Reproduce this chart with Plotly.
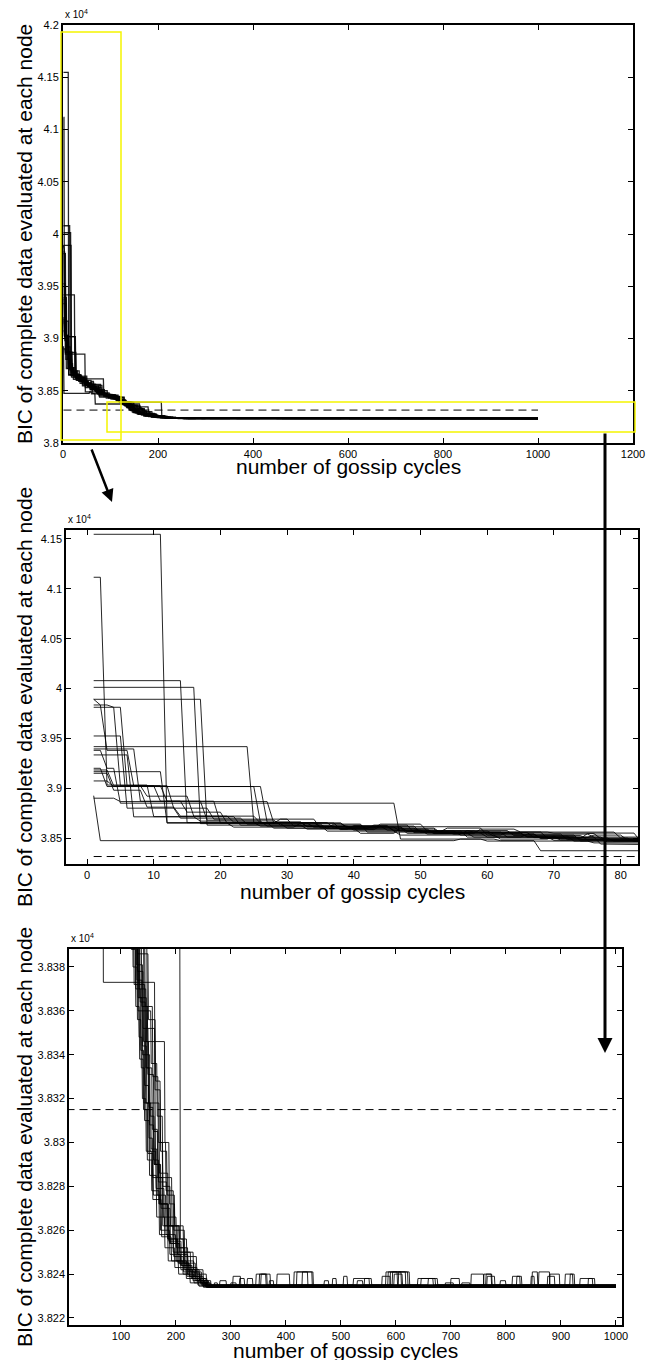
import plotly.graph_objects as go

# ---------------- data (BIC values in units of 10^4) ----------------
END_CYCLE = 1000
REFERENCE_BIC = 3.8315   # dashed horizontal reference

# each node: list of (cycle, value) -> value holds from that cycle until the next entry
NODE_01 = [(1,4.1547),(12,3.8655),(28,3.8600),(41,3.8548),(47,3.8600),(48,3.8548),(58,3.8510),(70,3.8478),(92,3.8452),(112,3.8405),(124,3.8372),(133,3.8348),(139,3.8320),(146,3.8296),(156,3.8278),(170,3.8258),(186,3.8246),(205,3.8240),(226,3.8236),(242,3.82345),(300,3.8236),(310,3.82345),(352,3.8240),(366,3.82345),(586,3.8241),(603,3.82345),(760,3.8240),(774,3.82345)]
NODE_02 = [(1,4.1116),(3,3.9032),(10,3.8715),(23,3.8630),(36,3.8570),(47,3.8530),(62,3.8490),(70,3.8520),(71,3.8490),(78,3.8462),(96,3.8430),(118,3.8395),(131,3.8360),(143,3.8326),(151,3.8302),(158,3.8284),(176,3.8262),(196,3.8248),(214,3.8241),(235,3.8237),(252,3.82345),(280,3.8237),(292,3.82345),(415,3.8241),(450,3.82345),(690,3.8236),(705,3.82345),(848,3.8241),(858,3.82345)]
NODE_03 = [(1,4.0079),(15,3.8655),(26,3.8620),(38,3.8585),(44,3.8620),(50,3.8560),(64,3.8540),(76,3.8510),(88,3.8455),(110,3.8418),(128,3.8381),(140,3.8352),(150,3.8318),(163,3.8290),(172,3.8272),(187,3.8255),(210,3.8244),(230,3.8238),(250,3.8235),(505,3.8239),(512,3.8235),(640,3.8238),(676,3.8235),(790,3.8237),(800,3.8235)]
NODE_04 = [(1,4.0012),(17,3.8645),(30,3.8600),(37,3.8640),(42,3.8560),(55,3.8540),(68,3.8495),(75,3.8545),(77,3.8495),(84,3.8468),(100,3.8435),(125,3.8392),(138,3.8362),(149,3.8331),(160,3.8305),(168,3.8282),(184,3.8262),(203,3.8249),(222,3.8241),(243,3.8237),(258,3.82345),(330,3.8238),(340,3.82345),(582,3.8241),(622,3.82345),(908,3.8240),(922,3.82345)]
NODE_05 = [(1,3.9892),(18,3.8630),(33,3.8590),(40,3.8625),(46,3.8570),(57,3.8510),(66,3.8540),(72,3.8485),(86,3.8460),(108,3.8420),(122,3.8380),(130,3.8356),(137,3.8334),(143,3.8310),(152,3.8285),(165,3.8266),(180,3.8252),(198,3.8243),(219,3.8238),(240,3.8235),(384,3.8240),(407,3.8235),(530,3.8237),(540,3.8235),(812,3.8239),(829,3.8235)]
NODE_06 = [(1,3.9892),(2,3.9835),(4,3.9812),(6,3.9025),(12,3.8870),(20,3.8650),(34,3.8610),(48,3.8565),(54,3.8600),(60,3.8530),(74,3.8470),(90,3.8448),(115,3.8410),(133,3.8370),(146,3.8346),(180,3.8300),(188,3.8272),(198,3.8256),(214,3.8245),(236,3.8238),(254,3.82345),(270,3.8236),(276,3.82345),(304,3.8239),(318,3.82345),(935,3.8238),(958,3.82345)]
NODE_07 = [(1,3.9835),(3,3.9380),(7,3.9025),(13,3.8800),(19,3.8690),(31,3.8620),(45,3.8580),(52,3.8545),(59,3.8590),(65,3.8560),(80,3.8500),(94,3.8445),(120,3.8398),(135,3.8364),(145,3.8334),(152,3.8308),(160,3.8290),(173,3.8270),(190,3.8254),(208,3.8244),(228,3.8238),(246,3.8235),(346,3.8240),(364,3.8235),(659,3.8238),(668,3.8235)]
NODE_08 = [(1,3.9812),(5,3.9025),(9,3.8920),(16,3.8720),(26,3.8650),(39,3.8600),(53,3.8555),(67,3.8505),(76,3.8530),(81,3.8480),(98,3.8438),(130,3.8386),(150,3.8356),(163,3.8328),(172,3.8300),(182,3.8278),(196,3.8260),(216,3.8248),(238,3.8240),(256,3.8235),(470,3.8237),(478,3.8235),(523,3.8238),(556,3.8235),(764,3.8240),(775,3.8235)]
NODE_09 = [(1,3.9524),(6,3.8800),(14,3.8700),(24,3.8640),(36,3.8595),(43,3.8630),(49,3.8555),(61,3.8520),(73,3.8470),(87,3.8458),(106,3.8422),(119,3.8388),(127,3.8362),(134,3.8338),(141,3.8315),(148,3.8292),(158,3.8274),(174,3.8257),(192,3.8246),(213,3.8240),(233,3.8236),(249,3.82345),(590,3.8241),(610,3.82345),(720,3.8236),(735,3.82345)]
NODE_10 = [(1,3.9417),(25,3.8655),(35,3.8610),(47,3.8570),(56,3.8530),(63,3.8560),(69,3.8500),(79,3.8470),(95,3.8440),(124,3.8395),(144,3.8362),(158,3.8330),(168,3.8300),(176,3.8280),(190,3.8262),(207,3.8250),(227,3.8241),(247,3.8236),(262,3.82345),(420,3.8241),(440,3.82345),(876,3.8239),(889,3.82345)]
NODE_11 = [(1,3.9394),(8,3.8870),(15,3.8760),(21,3.8650),(29,3.8690),(35,3.8600),(50,3.8560),(63,3.8510),(77,3.8440),(91,3.8430),(116,3.8404),(129,3.8374),(139,3.8344),(147,3.8318),(155,3.8297),(166,3.8276),(182,3.8258),(200,3.8246),(220,3.8239),(241,3.8236),(256,3.8234),(605,3.8241),(618,3.8234),(737,3.8240),(760,3.8234)]
NODE_12 = [(1,3.9334),(7,3.8713),(17,3.8670),(27,3.8620),(40,3.8580),(51,3.8540),(57,3.8575),(64,3.8525),(75,3.8482),(89,3.8456),(114,3.8412),(132,3.8372),(144,3.8340),(153,3.8312),(161,3.8290),(170,3.8272),(186,3.8256),(204,3.8245),(224,3.8239),(244,3.8236),(259,3.8234),(370,3.8237),(378,3.8234),(700,3.8238),(716,3.8234)]
NODE_13 = [(1,3.9183),(4,3.9025),(11,3.8870),(18,3.8680),(29,3.8630),(42,3.8590),(53,3.8548),(66,3.8510),(78,3.8472),(93,3.8448),(113,3.8406),(127,3.8370),(136,3.8342),(142,3.8318),(149,3.8295),(159,3.8276),(172,3.8260),(189,3.8249),(209,3.8242),(231,3.8237),(250,3.8234),(430,3.8241),(448,3.8234),(846,3.8239),(852,3.8234)]
NODE_14 = [(1,3.9166),(12,3.8650),(22,3.8610),(32,3.8650),(38,3.8590),(52,3.8550),(60,3.8510),(71,3.8480),(85,3.8462),(111,3.8416),(130,3.8378),(141,3.8346),(151,3.8316),(159,3.8292),(169,3.8272),(185,3.8256),(202,3.8246),(221,3.8240),(245,3.8236),(257,3.82345),(485,3.8238),(492,3.82345),(766,3.8239),(780,3.82345)]
NODE_15 = [(1,3.9150),(4,3.8980),(9,3.8810),(14,3.8720),(22,3.8660),(33,3.8615),(46,3.8575),(58,3.8560),(70,3.8550),(83,3.8465),(104,3.8426),(121,3.8390),(131,3.8366),(139,3.8340),(145,3.8318),(153,3.8296),(164,3.8279),(179,3.8262),(195,3.8250),(216,3.8242),(237,3.8237),(253,3.8235),(355,3.8240),(372,3.8235),(594,3.8241),(625,3.8235),(917,3.8240),(925,3.8235)]
NODE_16 = [(1,3.9073),(4,3.9017),(26,3.8655),(37,3.8600),(44,3.8640),(51,3.8570),(61,3.8540),(68,3.8500),(82,3.8466),(97,3.8436),(128,3.8390),(148,3.8352),(162,3.8324),(172,3.8296),(184,3.8276),(198,3.8262),(214,3.8250),(232,3.8242),(250,3.8237),(264,3.82345),(543,3.8238),(552,3.82345),(820,3.8239),(826,3.82345)]
NODE_17 = [(1,3.8925),(2,3.8474),(56,3.8490),(62,3.8474),(68,3.8373),(162,3.8318),(170,3.8286),(177,3.8266),(188,3.8254),(206,3.8245),(225,3.8239),(244,3.8236),(255,3.8234),(880,3.8240),(898,3.8234)]
NODE_18 = [(1,3.8900),(5,3.8866),(28,3.8650),(39,3.8610),(48,3.8570),(59,3.8550),(66,3.8515),(74,3.8488),(88,3.8457),(117,3.8402),(134,3.8366),(147,3.8334),(157,3.8306),(167,3.8284),(193,3.8262),(206,3.8252),(217,3.8243),(239,3.8238),(257,3.8235),(597,3.8240),(612,3.8235),(646,3.8238),(672,3.8235)]
NODE_19 = [(1,3.9380),(3,3.9200),(5,3.8850),(47,3.8490),(60,3.8470),(76,3.8452),(92,3.8440),(121,3.8396),(142,3.8360),(155,3.8336),(166,3.8312),(176,3.8286),(186,3.8266),(201,3.8252),(222,3.8242),(243,3.8237),(260,3.82345),(316,3.8238),(325,3.82345),(860,3.8241),(880,3.82345)]
NODE_20 = [(1,3.9200),(3,3.9017),(27,3.8660),(33,3.8614),(86,3.8445),(101,3.8420),(117,3.8400),(133,3.8392),(208,3.8256),(220,3.8246),(233,3.8239),(250,3.8236),(264,3.8234),(575,3.8239),(590,3.8234),(950,3.8238),(962,3.8234)]

NODES = [NODE_01, NODE_02, NODE_03, NODE_04, NODE_05, NODE_06, NODE_07, NODE_08, NODE_09, NODE_10,
         NODE_11, NODE_12, NODE_13, NODE_14, NODE_15, NODE_16, NODE_17, NODE_18, NODE_19, NODE_20]

# tick values / labels
TOP_XTICKS = [0, 200, 400, 600, 800, 1000, 1200]
TOP_YTICKS = [3.8, 3.85, 3.9, 3.95, 4.0, 4.05, 4.1, 4.15, 4.2]
TOP_YTEXT = ["3.8", "3.85", "3.9", "3.95", "4", "4.05", "4.1", "4.15", "4.2"]
MID_XTICKS = [0, 10, 20, 30, 40, 50, 60, 70, 80]
MID_YTICKS = [3.85, 3.9, 3.95, 4.0, 4.05, 4.1, 4.15]
MID_YTEXT = ["3.85", "3.9", "3.95", "4", "4.05", "4.1", "4.15"]
BOT_XTICKS = [100, 200, 300, 400, 500, 600, 700, 800, 900, 1000]
BOT_YTICKS = [3.822, 3.824, 3.826, 3.828, 3.83, 3.832, 3.834, 3.836, 3.838]
BOT_YTEXT = ["3.822", "3.824", "3.826", "3.828", "3.83", "3.832", "3.834", "3.836", "3.838"]

XLABEL = "number of gossip cycles"
YLABEL = "BIC of complete data evaluated at each node"

# ---------------- figure ----------------
PAGE_OFFSET = 8          # default body margin of the html page
W, H = 655 - PAGE_OFFSET, 1360 - PAGE_OFFSET
FONT = "Liberation Sans, Arial, Helvetica, sans-serif"


def px(x):
    return (x - PAGE_OFFSET) / W


def py(y):
    return 1 - (y - PAGE_OFFSET) / H


def node_path(steps):
    xs, ys = [], []
    for i, (c, v) in enumerate(steps):
        xs.append(c)
        ys.append(v)
        nxt = steps[i + 1][0] if i + 1 < len(steps) else END_CYCLE + 1
        hold_end = nxt - 1
        if hold_end > c:
            xs.append(hold_end)
            ys.append(v)
    return xs, ys


fig = go.Figure()
panels = [("x", "y", 1.3), ("x2", "y2", 1.0), ("x3", "y3", 1.0)]
for xa, ya, lw in panels:
    for steps in NODES:
        xs, ys = node_path(steps)
        fig.add_trace(go.Scatter(x=xs, y=ys, mode="lines", xaxis=xa, yaxis=ya,
                                 line=dict(color="rgba(0,0,0,0.85)", width=lw),
                                 showlegend=False, hoverinfo="skip"))
    fig.add_trace(go.Scatter(x=[1, END_CYCLE], y=[REFERENCE_BIC, REFERENCE_BIC], mode="lines",
                             xaxis=xa, yaxis=ya,
                             line=dict(color="black", width=1, dash="8px,5px"),
                             showlegend=False, hoverinfo="skip"))

tickfont = dict(family=FONT, size=11, color="black")


def axis(domain, rng, tickvals, ticktext=None, anchor=None, lw=1.5):
    d = dict(domain=domain, range=rng, tickvals=tickvals, showgrid=False, zeroline=False,
             showline=True, linecolor="black", linewidth=lw, mirror="ticks",
             ticks="inside", ticklen=5, tickwidth=1, tickcolor="black",
             tickfont=tickfont, anchor=anchor)
    if ticktext is not None:
        d["ticktext"] = ticktext
    return d


# pixel boxes of the three panels (page pixels)
TOP = dict(l=63, r=633, t=25, b=443)
MID = dict(l=66, r=638, t=530, b=864)
BOT = dict(l=69, r=622, t=949, b=1325)

fig.update_layout(
    width=W, height=H,
    margin=dict(l=0, r=0, t=0, b=0, autoexpand=False),
    paper_bgcolor="white", plot_bgcolor="white",
    xaxis=axis([px(TOP["l"]), px(TOP["r"])], [0, 1200], TOP_XTICKS, anchor="y", lw=2),
    yaxis=axis([py(TOP["b"]), py(TOP["t"])], [3.8, 4.2], TOP_YTICKS, TOP_YTEXT, anchor="x", lw=2),
    xaxis2=axis([px(MID["l"]), px(MID["r"])], [-3.15, 82.6], MID_XTICKS, anchor="y2"),
    yaxis2=axis([py(MID["b"]), py(MID["t"])], [3.824, 4.159], MID_YTICKS, MID_YTEXT, anchor="x2"),
    xaxis3=axis([px(BOT["l"]), px(BOT["r"])], [5.5, 1011], BOT_XTICKS, anchor="y3"),
    yaxis3=axis([py(BOT["b"]), py(BOT["t"])], [3.82168, 3.83882], BOT_YTICKS, BOT_YTEXT, anchor="x3"),
)

annotations = []
for box, xl_y in [(TOP, 466), (MID, 891), (BOT, 1350)]:
    annotations.append(dict(text=XLABEL, x=px((box["l"] + box["r"]) / 2), y=py(xl_y),
                            xref="paper", yref="paper", showarrow=False,
                            font=dict(family=FONT, size=21, color="black"),
                            xanchor="center", yanchor="middle"))
    annotations.append(dict(text=YLABEL, x=px(24), y=py((box["t"] + box["b"]) / 2),
                            xref="paper", yref="paper", showarrow=False, textangle=-90,
                            font=dict(family=FONT, size=21, color="black"),
                            xanchor="center", yanchor="middle"))
    annotations.append(dict(text="x 10<sup>4</sup>", x=px(box["l"]), y=py(box["t"] - 3),
                            xref="paper", yref="paper", showarrow=False,
                            font=dict(family=FONT, size=10, color="black"),
                            xanchor="left", yanchor="bottom"))

# zoom arrows
annotations.append(dict(text="", x=px(112), y=py(502), xref="paper", yref="paper",
                        ax=91 - 112, ay=448 - 502, axref="pixel", ayref="pixel",
                        showarrow=True, arrowhead=2, arrowsize=1, arrowwidth=2.5, arrowcolor="black"))
annotations.append(dict(text="", x=px(605), y=py(1053), xref="paper", yref="paper",
                        ax=0, ay=432 - 1053, axref="pixel", ayref="pixel",
                        showarrow=True, arrowhead=2, arrowsize=1, arrowwidth=3, arrowcolor="black"))
fig.update_layout(annotations=annotations)

# yellow zoom rectangles on the top panel
fig.update_layout(shapes=[
    dict(type="rect", xref="paper", yref="paper", x0=px(61), x1=px(121), y0=py(440), y1=py(32),
         line=dict(color="#f5f500", width=1.5), fillcolor="rgba(0,0,0,0)", layer="above"),
    dict(type="rect", xref="paper", yref="paper", x0=px(107), x1=px(635), y0=py(432), y1=py(402),
         line=dict(color="#f5f500", width=1.5), fillcolor="rgba(0,0,0,0)", layer="above"),
])

fig.write_html("out.html")
